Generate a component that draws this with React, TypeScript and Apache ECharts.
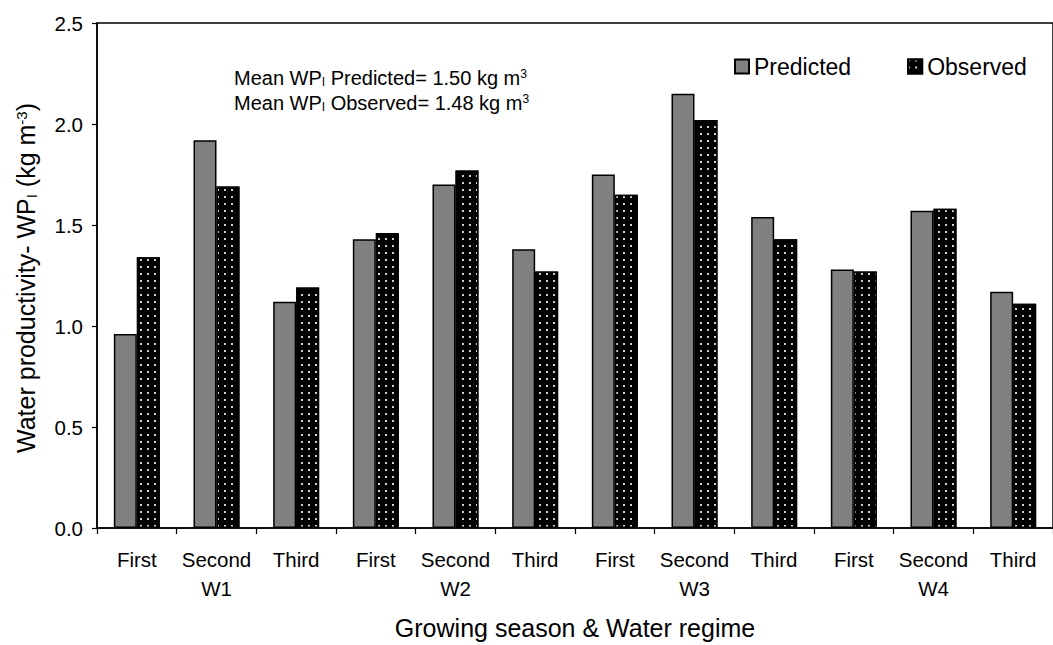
import React, { useEffect, useRef } from "react";
import * as echarts from "echarts";

const seasons = ["First", "Second", "Third"];
const regimes = ["W1", "W2", "W3", "W4"];
const predicted = [0.96, 1.92, 1.12, 1.43, 1.70, 1.38, 1.75, 2.15, 1.54, 1.28, 1.57, 1.17];
const observed = [1.34, 1.69, 1.19, 1.46, 1.77, 1.27, 1.65, 2.02, 1.43, 1.27, 1.58, 1.11];
const yMin = 0;
const yMax = 2.5;
const yStep = 0.5;
const meanPredicted = "1.50";
const meanObserved = "1.48";

const FONT = "Liberation Sans, Arial, sans-serif";

export default function App() {
  const ref = useRef<HTMLDivElement>(null);
  useEffect(() => {
    if (!ref.current) return;
    const chart = echarts.init(ref.current, null, { renderer: "svg" });
    const categories = regimes.flatMap((r) =>
      seasons.map((s) => (s === "Second" ? `${s}\n${r}` : s))
    );
    const dotDecal = {
      symbol: "rect",
      symbolSize: 1,
      color: "#cfcfcf",
      dashArrayX: [2, 5],
      dashArrayY: [2, 5],
      rotation: 0,
    };
    const annRich = {
      a: { fontSize: 20, fontFamily: FONT, color: "#000" },
      sub: { fontSize: 12, fontFamily: FONT, color: "#000", verticalAlign: "bottom" as const },
      sup: { fontSize: 12, fontFamily: FONT, color: "#000", verticalAlign: "top" as const },
    };
    chart.setOption({
      animation: false,
      backgroundColor: "#fff",
      grid: {
        left: 97,
        top: 23,
        width: 966,
        height: 509,
        show: true,
        borderColor: "#000",
        borderWidth: 1.5,
      },
      legend: {
        left: 729,
        top: 50,
        itemWidth: 14,
        itemHeight: 14,
        itemGap: 56,
        icon: "rect",
        textStyle: { fontSize: 23, fontFamily: FONT, color: "#000" },
        data: ["Predicted", "Observed"],
      },
      xAxis: {
        type: "category",
        data: categories,
        axisLine: { lineStyle: { color: "#000", width: 1.5 } },
        axisTick: { show: true, length: 6, lineStyle: { color: "#000", width: 1.2 } },
        axisLabel: {
          fontSize: 20.5,
          fontFamily: FONT,
          color: "#000",
          margin: 17,
          lineHeight: 29,
          interval: 0,
        },
        name: "Growing season & Water regime",
        nameLocation: "middle",
        nameGap: 87,
        nameTextStyle: { fontSize: 25, fontFamily: FONT, color: "#000" },
      },
      yAxis: {
        type: "value",
        min: yMin,
        max: yMax,
        interval: yStep,
        axisLine: { show: true, lineStyle: { color: "#000", width: 1.5 } },
        axisTick: { show: true, length: 5, lineStyle: { color: "#000", width: 1.2 } },
        splitLine: { show: false },
        axisLabel: {
          fontSize: 20.5,
          fontFamily: FONT,
          color: "#000",
          margin: 14,
          formatter: (v: number) => v.toFixed(1),
        },
      },
      graphic: [
        {
          type: "text",
          x: 26,
          y: 278,
          rotation: Math.PI / 2,
          style: {
            text: "{a|Water productivity- WP}{sub|I}{a| (kg m}{sup|-3}{a|)}",
            align: "center",
            verticalAlign: "middle",
            rich: {
              a: { fontSize: 25, fontFamily: FONT, color: "#000" },
              sub: { fontSize: 15, fontFamily: FONT, color: "#000", verticalAlign: "bottom" },
              sup: { fontSize: 15, fontFamily: FONT, color: "#000", verticalAlign: "top" },
            },
          },
        },
        {
          type: "text",
          x: 234,
          y: 78,
          style: {
            text: `{a|Mean WP}{sub|I}{a| Predicted= ${meanPredicted} kg m}{sup|3}`,
            align: "left",
            verticalAlign: "middle",
            rich: annRich,
          },
        },
        {
          type: "text",
          x: 234,
          y: 103,
          style: {
            text: `{a|Mean WP}{sub|I}{a| Observed= ${meanObserved} kg m}{sup|3}`,
            align: "left",
            verticalAlign: "middle",
            rich: annRich,
          },
        },
      ],
      series: [
        {
          name: "Predicted",
          type: "bar",
          data: predicted,
          barWidth: 23,
          barGap: "0%",
          itemStyle: { color: "#808080", borderColor: "#000", borderWidth: 1.5 },
        },
        {
          name: "Observed",
          type: "bar",
          data: observed,
          barWidth: 23,
          barGap: "0%",
          itemStyle: { color: "#000", borderColor: "#000", borderWidth: 1.5, decal: dotDecal },
        },
      ],
    });
    return () => chart.dispose();
  }, []);
  return (
    <div
      ref={ref}
      style={{ position: "absolute", left: 0, top: 0, width: 1053, height: 645 }}
    />
  );
}
